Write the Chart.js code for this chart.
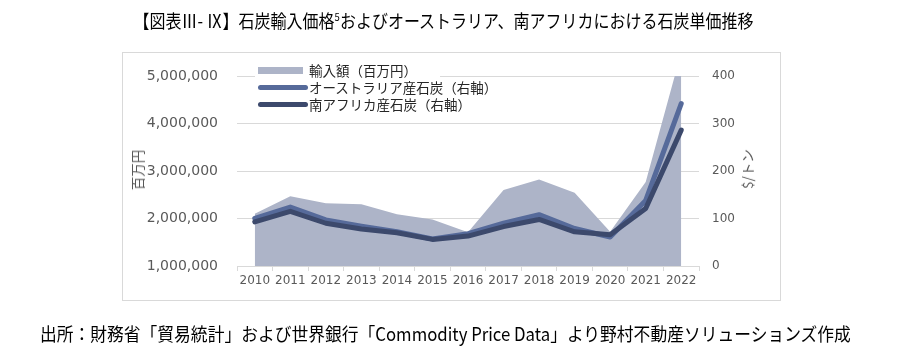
<!DOCTYPE html>
<html>
<head>
<meta charset="utf-8">
<script src="https://cdn.jsdelivr.net/npm/chart.js@4"></script>
<style>
  html, body { margin:0; padding:0; background:#fff; }
  body { width:900px; height:354px; position:relative; overflow:hidden; font-family:"Noto Sans CJK JP", sans-serif; color:#000; }
  #wrap { position:absolute; left:0; top:0; width:900px; height:354px; }
  #box { position:absolute; left:122px; top:52px; width:657px; height:247px; border:1px solid #d9d9d9; }
  .txt { position:absolute; white-space:nowrap; transform-origin:center center; }
  #title { top:7px; font-size:18.5px; line-height:26px; }
  #title sup { font-size:11px; vertical-align:7px; line-height:0; }
  #foot { top:320px; font-size:18.5px; line-height:26px; }
  .axt { position:absolute; font-size:13.5px; color:#595959; white-space:nowrap; transform:translate(-50%,-50%) rotate(-90deg); line-height:16px; }
  #legend { position:absolute; left:255px; top:61px; width:185px; height:52px; background:#fff; }
  .li { position:absolute; left:0; height:17px; font-size:13.5px; line-height:17px; color:#262626; }
  .sw { position:absolute; left:3px; }
  .lt { position:absolute; left:54px; top:0; white-space:nowrap; }
</style>
</head>
<body>
<div id="box"></div>
<div id="wrap"><canvas id="c" width="900" height="354"></canvas></div>
<div id="title" class="txt">【図表Ⅲ- Ⅸ】石炭輸入価格<sup>5</sup>およびオーストラリア、南アフリカにおける石炭単価推移</div>
<div id="foot" class="txt">出所：財務省「貿易統計」および世界銀行「Commodity Price Data」より野村不動産ソリューションズ作成</div>
<div class="axt" style="left:137px; top:170px;">百万円</div>
<div class="axt" style="left:747px; top:169px;">$/トン</div>
<div id="legend"></div>
<script>
const years = ['2010','2011','2012','2013','2014','2015','2016','2017','2018','2019','2020','2021','2022'];
const importAmount = [2100000, 2470000, 2320000, 2300000, 2090000, 1980000, 1710000, 2600000, 2820000, 2540000, 1720000, 2770000, 5500000];
const australiaPrice = [100, 124, 97, 84, 72, 57, 68, 90, 108, 79, 61, 138, 342];
const southAfricaPrice = [93, 115, 90, 78, 70, 56, 63, 83, 98, 72, 66, 121, 286];
const seriesNames = ['輸入額（百万円）', 'オーストラリア産石炭（右軸）', '南アフリカ産石炭（右軸）'];
const leftTicks = [1000000, 5000000, 1000000]; // min, max, step
const rightTicks = [0, 400, 100];

const areaColor = 'rgb(173,180,200)';
const ausColor = 'rgb(86,106,154)';
const saColor = 'rgb(60,73,108)';

// legend (HTML)
const legend = document.getElementById('legend');
const legendItems = [
  {name: seriesNames[0], type: 'rect', color: areaColor},
  {name: seriesNames[1], type: 'line', color: ausColor},
  {name: seriesNames[2], type: 'line', color: saColor}
];
legendItems.forEach((it, i) => {
  const d = document.createElement('div');
  d.className = 'li';
  d.style.top = (1 + i * 17) + 'px';
  const sw = document.createElement('div');
  sw.className = 'sw';
  if (it.type === 'rect') {
    sw.style.cssText += 'top:5px;width:45px;height:7px;background:' + it.color + ';';
  } else {
    sw.style.cssText += 'top:6px;width:50px;height:5px;border-radius:3px;background:' + it.color + ';';
  }
  const t = document.createElement('div');
  t.className = 'lt';
  t.textContent = it.name;
  d.appendChild(sw); d.appendChild(t);
  legend.appendChild(d);
});

function fitText(id, left, width) {
  const el = document.getElementById(id);
  const w = el.offsetWidth;
  el.style.left = (left + width / 2 - w / 2) + 'px';
  el.style.transform = 'scaleX(' + (width / w) + ')';
}
fitText('title', 133, 620);
fitText('foot', 40, 811);

const tickFontL = {family: 'DejaVu Sans', size: 14};
const tickFont = {family: 'DejaVu Sans', size: 12};

new Chart(document.getElementById('c'), {
  type: 'line',
  data: {
    labels: years,
    datasets: [
      {label: seriesNames[0], data: importAmount, yAxisID: 'y', backgroundColor: areaColor, borderWidth: 0, borderColor: areaColor, fill: 'start', pointRadius: 0, order: 10, tension: 0},
      {label: seriesNames[1], data: australiaPrice, yAxisID: 'y1', borderColor: ausColor, borderWidth: 5, fill: false, pointRadius: 0, order: 2, tension: 0, borderCapStyle: 'round', borderJoinStyle: 'round'},
      {label: seriesNames[2], data: southAfricaPrice, yAxisID: 'y1', borderColor: saColor, borderWidth: 5, fill: false, pointRadius: 0, order: 1, tension: 0, borderCapStyle: 'round', borderJoinStyle: 'round'}
    ]
  },
  options: {
    responsive: false,
    animation: false,
    events: [],
    layout: {padding: {left: 122, right: 121, top: 76, bottom: 0}},
    plugins: {legend: {display: false}, tooltip: {enabled: false}},
    scales: {
      x: {
        type: 'category',
        offset: true,
        grid: {display: true, drawOnChartArea: false, drawTicks: true, tickLength: 5, color: '#d9d9d9', offset: true},
        border: {display: true, color: '#d9d9d9', width: 1},
        ticks: {font: tickFont, color: '#595959', padding: 3, maxRotation: 0, autoSkip: false},
        afterFit: s => { s.height = 88; }
      },
      y: {
        position: 'left',
        min: leftTicks[0], max: leftTicks[1],
        ticks: {stepSize: leftTicks[2], font: tickFontL, color: '#595959', padding: 19,
          callback: v => v.toLocaleString('en-US')},
        grid: {color: '#d9d9d9', drawTicks: false, lineWidth: 1},
        border: {display: false},
        afterFit: s => { s.width = 115; }
      },
      y1: {
        position: 'right',
        min: rightTicks[0], max: rightTicks[1],
        ticks: {stepSize: rightTicks[2], font: tickFont, color: '#595959', padding: 13},
        grid: {drawOnChartArea: false, drawTicks: false},
        border: {display: false},
        afterFit: s => { s.width = 80; }
      }
    }
  }
});
</script>
</body>
</html>
